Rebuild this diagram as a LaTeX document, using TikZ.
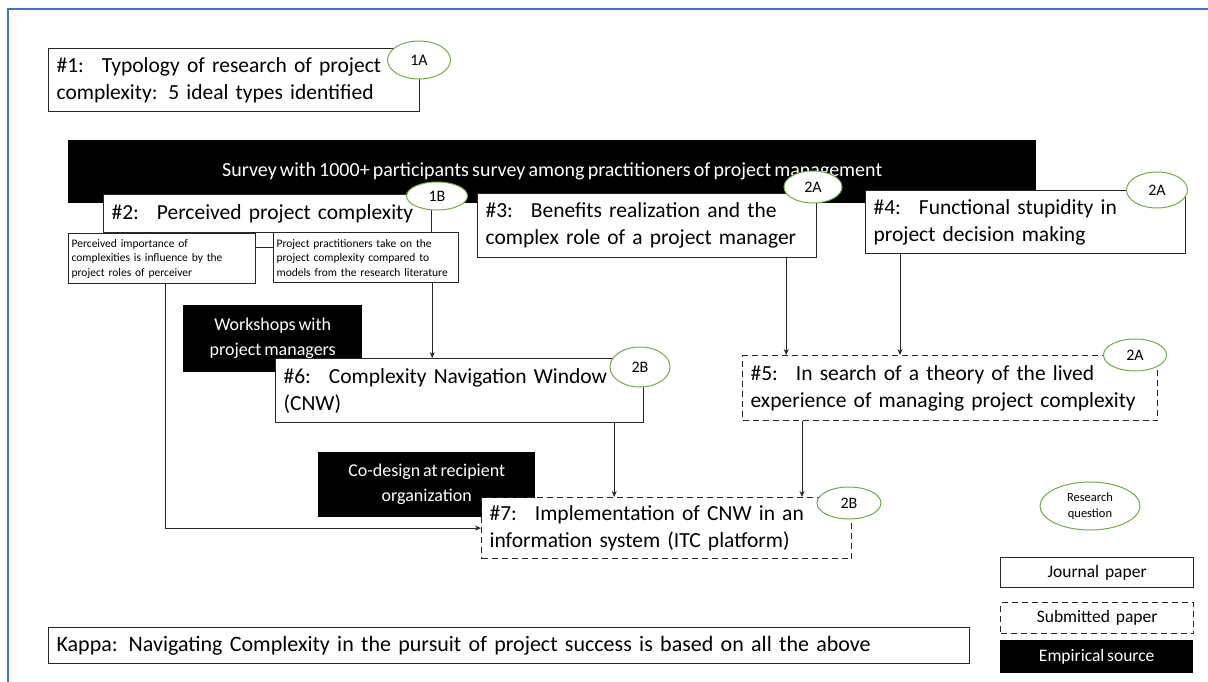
\documentclass[tikz,border=0pt]{standalone}
\usepackage{fontspec}
\setmainfont{Carlito}[WordSpace=0.7]
\usetikzlibrary{arrows.meta,shapes.geometric}
\definecolor{frameblue}{HTML}{4472C4}
\definecolor{rqgreen}{HTML}{70AD47}
\definecolor{boxline}{HTML}{262626}
\begin{document}
\begin{tikzpicture}[x=1pt,y=-1pt,
    paper/.style={draw=boxline, line width=1.2pt, fill=white, anchor=north west,
      align=left, inner xsep=8pt, inner ysep=0pt, font=\fontsize{21.5}{27}\selectfont},
    submitted/.style={paper, dash pattern=on 6pt off 4pt},
    source/.style={fill=black, text=white, anchor=north west, align=center,
      inner sep=0pt, font=\fontsize{18}{25}\selectfont},
    note/.style={paper, inner xsep=3pt, font=\fontsize{11.5}{14.5}\selectfont},
    legend/.style={paper, align=center, text width=177pt, font=\fontsize{17.5}{19}\selectfont},
    rq/.style={ellipse, draw=rqgreen, line width=1pt, fill=white, inner sep=0pt,
      font=\fontsize{16}{18}\selectfont},
    arr/.style={-{Stealth[length=6pt,width=5pt]}, line width=0.9pt, draw=boxline}
  ]
  \useasboundingbox (0,0) rectangle (1208,682);
  \fill[white] (0,0) rectangle (1208,682);

  % frame
  \draw[frameblue, line width=2pt] (8,682) -- (8,9) -- (1208,9);

  % paper #1
  \node[paper, text width=355pt, minimum height=63pt] (p1) at (48,48)
    {\#1:~ Typology of research of project\\complexity: 5 ideal types identified};
  \node[rq, minimum width=63pt, minimum height=38pt] (q1) at (419,60) {1A};

  % survey
  \node[source, minimum width=968pt, minimum height=63pt, font=\fontsize{20}{24}\selectfont] (survey) at (68,140)
    {Survey with 1000+ participants survey among practitioners of project management};

  % paper #2 and its findings
  \node[note, text width=181pt, minimum height=50pt] (s2a) at (68,233)
    {Perceived importance of\\complexities is influence by the\\project roles of perceiver};
  \node[note, text width=179pt, minimum height=50pt] (s2b) at (273,232)
    {Project practitioners take on the\\project complexity compared to\\models from the research literature};
  \node[paper, text width=312pt, minimum height=38pt] (p2) at (103,194)
    {\#2:~ Perceived project complexity};
  \node[rq, minimum width=61pt, minimum height=28pt] (q2) at (437,196) {1B};
  \draw[line width=1.2pt, boxline] ([yshift=11pt]s2a.east) -- ([yshift=11pt]s2a.east -| s2b.west);

  % papers #3 and #4
  \node[paper, text width=323pt, minimum height=64pt] (p3) at (477,193)
    {\#3:~ Benefits realization and the\\complex role of a project manager};
  \node[rq, minimum width=58pt, minimum height=32pt] (q3) at (813,187) {2A};
  \node[paper, text width=304pt, minimum height=63pt] (p4) at (865,190)
    {\#4:~ Functional stupidity in\\project decision making};
  \node[rq, minimum width=61pt, minimum height=36pt] (q4) at (1157,190) {2A};

  % paper #6
  \node[source, minimum width=179pt, minimum height=67pt] (workshop) at (183,305)
    {Workshops with\\project managers};
  \node[paper, text width=352pt, minimum height=64pt] (p6) at (275,358)
    {\#6:~ Complexity Navigation Window\\(CNW)};
  \node[rq, minimum width=60pt, minimum height=40pt] (q6) at (640,367) {2B};

  % paper #5
  \node[submitted, text width=399pt, minimum height=65pt] (p5) at (742,355)
    {\#5:~ In search of a theory of the lived\\experience of managing project complexity};
  \node[rq, minimum width=63pt, minimum height=32pt] (q5) at (1135,355) {2A};

  % paper #7
  \node[source, minimum width=217pt, minimum height=65pt] (codesign) at (318,452)
    {Co-design at recipient\\organization};
  \node[submitted, text width=354pt, minimum height=61pt] (p7) at (481,497)
    {\#7:~ Implementation of CNW in an\\information system (ITC platform)};
  \node[rq, minimum width=64pt, minimum height=32pt] (q7) at (849,503) {2B};

  % connectors
  \draw[arr] (p2.east |- s2b.south) -- (p2.east |- p6.north);
  \draw[arr] ([xshift=3pt]s2a.south) |- (p7.west);
  \draw[arr] ([xshift=-31pt]p3.south east) -- ([xshift=-31pt]p3.south east |- p5.north);
  \draw[arr] ([xshift=35pt]p4.south west) -- ([xshift=35pt]p4.south west |- p5.north);
  \draw[arr] ([xshift=-30pt]p6.south east) -- ([xshift=-30pt]p6.south east |- p7.north);
  \draw[arr] ([xshift=60pt]p5.south west) -- ([xshift=60pt]p5.south west |- p7.north);

  % kappa
  \node[paper, text width=905pt, minimum height=36pt, font=\fontsize{22}{24}\selectfont] (kappa) at (48,627)
    {Kappa: Navigating Complexity in the pursuit of project success is based on all the above};

  % legend
  \node[rq, minimum width=100pt, minimum height=48pt, align=center, font=\fontsize{12.5}{16}\selectfont] (lq) at (1090,506)
    {Research\\question};
  \node[legend, minimum height=30pt] (lj) at (1000,557) {Journal paper};
  \node[legend, minimum height=31pt, dash pattern=on 6pt off 4pt] (ls) at (1000,602) {Submitted paper};
  \node[source, minimum width=193pt, minimum height=33pt, font=\fontsize{17.5}{19}\selectfont] (le) at (1000,640) {Empirical source};
\end{tikzpicture}
\end{document}
